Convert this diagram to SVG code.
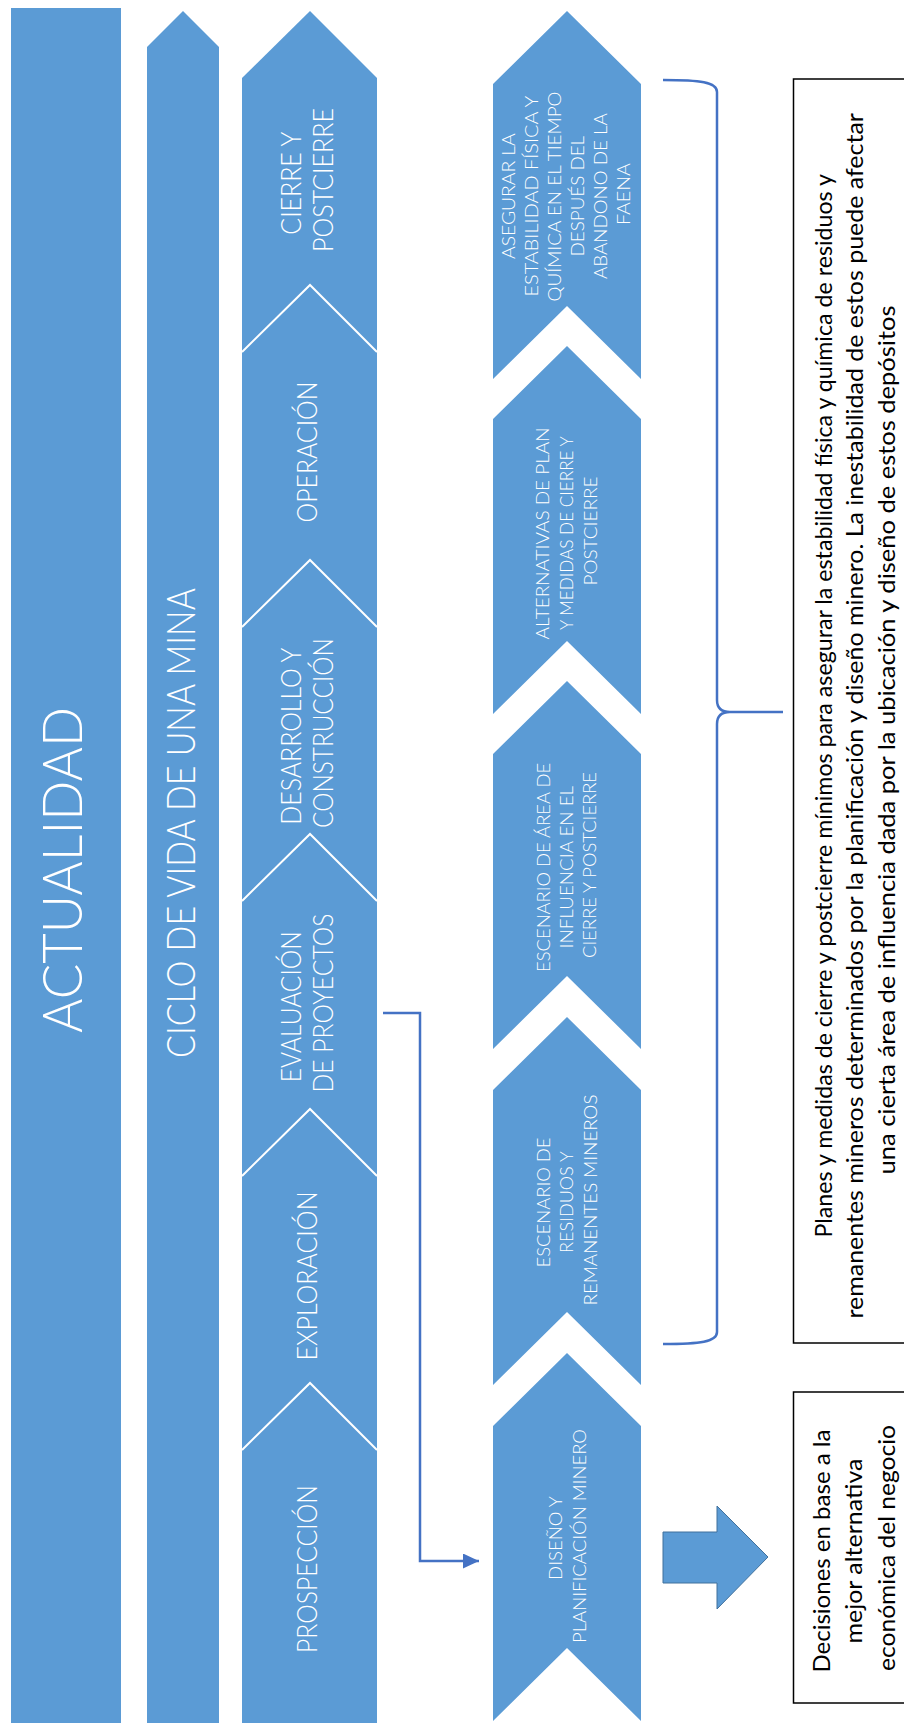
<svg xmlns="http://www.w3.org/2000/svg" width="904" height="1723" viewBox="0 0 904 1723">
  <defs>
    <style>
      .blue { fill: #5B9BD5; }
      .sep { fill: none; stroke: #FFFFFF; stroke-width: 2; }
      .wt { fill: #FFFFFF; font-family: Lato, "Open Sans", "Liberation Sans", sans-serif; font-weight: 300; text-anchor: middle; }
      .stage { font-size: 27px; }
      .step { font-size: 18px; font-weight: 300; }
      .bk { fill: #000000; font-family: Lato, "Open Sans", "Liberation Sans", sans-serif; font-size: 24px; text-anchor: middle; }
      .box { fill: #FFFFFF; stroke: #000000; stroke-width: 1.5; }
      .conn { fill: none; stroke: #4472C4; stroke-width: 2.5; }
    </style>
    <marker id="ah" markerWidth="16" markerHeight="15" refX="16" refY="7.5" orient="auto" markerUnits="userSpaceOnUse">
      <path d="M0,0 L16,7.5 L0,15 Z" fill="#4472C4"/>
    </marker>
  </defs>

  <rect width="904" height="1723" fill="#FFFFFF"/>

  <!-- Left bar: present time -->
  <g id="actualidad">
    <rect class="blue" x="11" y="8" width="110" height="1715"/>
    <text class="wt" font-size="56" transform="translate(0,870) rotate(-90)" x="0" y="82" textLength="326" lengthAdjust="spacingAndGlyphs">ACTUALIDAD</text>
  </g>

  <!-- Mine life cycle arrow -->
  <g id="ciclo">
    <polygon class="blue" points="147,47 183,11 219,47 219,1723 147,1723"/>
    <text class="wt" font-size="39" transform="translate(0,823) rotate(-90)" x="0" y="195" textLength="470" lengthAdjust="spacingAndGlyphs">CICLO DE VIDA DE UNA MINA</text>
  </g>

  <!-- Life cycle stages -->
  <g id="etapas">
    <polygon class="blue" points="242,78 310,11 377,78 377,1723 242,1723"/>
    <polyline class="sep" points="242,352 310,285 377,352"/>
    <polyline class="sep" points="242,627 310,560 377,627"/>
    <polyline class="sep" points="242,901 310,834 377,901"/>
    <polyline class="sep" points="242,1176 310,1109 377,1176"/>
    <polyline class="sep" points="242,1450 310,1383 377,1450"/>
  </g>
  <g id="etapa-cierre">
    <text class="wt stage" transform="translate(0,180) rotate(-90)">
      <tspan x="0" y="301" textLength="102" lengthAdjust="spacingAndGlyphs">CIERRE Y</tspan>
      <tspan x="0" y="333" textLength="144" lengthAdjust="spacingAndGlyphs">POSTCIERRE</tspan>
    </text>
  </g>
  <g id="etapa-operacion">
    <text class="wt stage" transform="translate(0,452) rotate(-90)" x="0" y="317" textLength="141" lengthAdjust="spacingAndGlyphs">OPERACIÓN</text>
  </g>
  <g id="etapa-desarrollo">
    <text class="wt stage" transform="translate(0,733) rotate(-90)">
      <tspan x="0" y="301" textLength="176" lengthAdjust="spacingAndGlyphs">DESARROLLO Y</tspan>
      <tspan x="0" y="333" textLength="190" lengthAdjust="spacingAndGlyphs">CONSTRUCCIÓN</tspan>
    </text>
  </g>
  <g id="etapa-evaluacion">
    <text class="wt stage" transform="translate(0,1003) rotate(-90)">
      <tspan x="0" y="301" textLength="151" lengthAdjust="spacingAndGlyphs">EVALUACIÓN</tspan>
      <tspan x="0" y="333" textLength="179" lengthAdjust="spacingAndGlyphs">DE PROYECTOS</tspan>
    </text>
  </g>
  <g id="etapa-exploracion">
    <text class="wt stage" transform="translate(0,1276) rotate(-90)" x="0" y="317" textLength="169" lengthAdjust="spacingAndGlyphs">EXPLORACIÓN</text>
  </g>
  <g id="etapa-prospeccion">
    <text class="wt stage" transform="translate(0,1569) rotate(-90)" x="0" y="317" textLength="168" lengthAdjust="spacingAndGlyphs">PROSPECCIÓN</text>
  </g>

  <!-- Closure process steps -->
  <g id="paso-asegurar">
    <polygon class="blue" points="493,84 567,11 641,84 641,379 567,306 493,379"/>
    <text class="wt step" font-size="17" transform="translate(0,194) rotate(-90)">
      <tspan x="0" y="515" textLength="125" lengthAdjust="spacingAndGlyphs">ASEGURAR LA</tspan>
      <tspan x="0" y="538" textLength="200" lengthAdjust="spacingAndGlyphs">ESTABILIDAD FÍSICA Y</tspan>
      <tspan x="0" y="561" textLength="210" lengthAdjust="spacingAndGlyphs">QUÍMICA EN EL TIEMPO</tspan>
      <tspan x="0" y="584" textLength="120" lengthAdjust="spacingAndGlyphs">DESPUÉS DEL</tspan>
      <tspan x="0" y="607" textLength="165" lengthAdjust="spacingAndGlyphs">ABANDONO DE LA</tspan>
      <tspan x="0" y="630" textLength="62" lengthAdjust="spacingAndGlyphs">FAENA</tspan>
    </text>
  </g>
  <g id="paso-alternativas">
    <polygon class="blue" points="493,419 567,346 641,419 641,714 567,641 493,714"/>
    <text class="wt step" transform="translate(0,531) rotate(-90)">
      <tspan x="0" y="549" textLength="212" lengthAdjust="spacingAndGlyphs">ALTERNATIVAS DE PLAN</tspan>
      <tspan x="0" y="573" textLength="193" lengthAdjust="spacingAndGlyphs">Y MEDIDAS DE CIERRE Y</tspan>
      <tspan x="0" y="597" textLength="109" lengthAdjust="spacingAndGlyphs">POSTCIERRE</tspan>
    </text>
  </g>
  <g id="paso-area">
    <polygon class="blue" points="493,754 567,681 641,754 641,1049 567,976 493,1049"/>
    <text class="wt step" transform="translate(0,865) rotate(-90)">
      <tspan x="0" y="550" textLength="209" lengthAdjust="spacingAndGlyphs">ESCENARIO DE ÁREA DE</tspan>
      <tspan x="0" y="573" textLength="162" lengthAdjust="spacingAndGlyphs">INFLUENCIA EN EL</tspan>
      <tspan x="0" y="596" textLength="186" lengthAdjust="spacingAndGlyphs">CIERRE Y POSTCIERRE</tspan>
    </text>
  </g>
  <g id="paso-residuos">
    <polygon class="blue" points="493,1090 567,1017 641,1090 641,1385 567,1312 493,1385"/>
    <text class="wt step" transform="translate(0,1200) rotate(-90)">
      <tspan x="0" y="550" textLength="130" lengthAdjust="spacingAndGlyphs">ESCENARIO DE</tspan>
      <tspan x="0" y="573" textLength="101" lengthAdjust="spacingAndGlyphs">RESIDUOS Y</tspan>
      <tspan x="0" y="597" textLength="211" lengthAdjust="spacingAndGlyphs">REMANENTES MINEROS</tspan>
    </text>
  </g>
  <g id="paso-diseno">
    <polygon class="blue" points="493,1426 567,1353 641,1426 641,1721 567,1648 493,1721"/>
    <text class="wt step" transform="translate(0,1536) rotate(-90)">
      <tspan x="0" y="562" textLength="83" lengthAdjust="spacingAndGlyphs">DISEÑO Y</tspan>
      <tspan x="0" y="586" textLength="214" lengthAdjust="spacingAndGlyphs">PLANIFICACIÓN MINERO</tspan>
    </text>
  </g>

  <!-- Description of closure plans -->
  <g id="planes">
    <rect class="box" x="793.5" y="79" width="130" height="1264"/>
    <text class="bk" transform="translate(0,711) rotate(-90)">
      <tspan x="8" y="832" textLength="1063" lengthAdjust="spacingAndGlyphs">Planes y medidas de cierre y postcierre mínimos para asegurar la estabilidad física y química de residuos y</tspan>
      <tspan x="-2" y="863" textLength="1205" lengthAdjust="spacingAndGlyphs">remanentes mineros determinados por la planificación y diseño minero. La inestabilidad de estos puede afectar</tspan>
      <tspan x="-29" y="895" textLength="869" lengthAdjust="spacingAndGlyphs">una cierta área de influencia dada por la ubicación y diseño de estos depósitos</tspan>
    </text>
  </g>

  <!-- Business decisions -->
  <g id="decisiones">
    <rect class="box" x="793.5" y="1392" width="130" height="311"/>
    <text class="bk" transform="translate(0,1548) rotate(-90)">
      <tspan x="0" y="830" textLength="243" lengthAdjust="spacingAndGlyphs">Decisiones en base a la</tspan>
      <tspan x="0" y="862" textLength="185" lengthAdjust="spacingAndGlyphs">mejor alternativa</tspan>
      <tspan x="0" y="895" textLength="246" lengthAdjust="spacingAndGlyphs">económica del negocio</tspan>
    </text>
  </g>

  <!-- Connectors -->
  <g id="conectores">
    <path class="conn" d="M383,1013 H420 V1561 H479" marker-end="url(#ah)"/>
    <path class="conn" d="M663,80 C700,80 717,82 717,92 L717,700 C717,708 721,712 730,712 L783,712 M730,712 C721,712 717,716 717,724 L717,1332 C717,1342 700,1344 663,1344"/>
    <polygon points="663,1532 717,1532 717,1506 768,1557 717,1609 717,1583 663,1583" fill="#5B9BD5" stroke="#41719C" stroke-width="1"/>
  </g>
</svg>
